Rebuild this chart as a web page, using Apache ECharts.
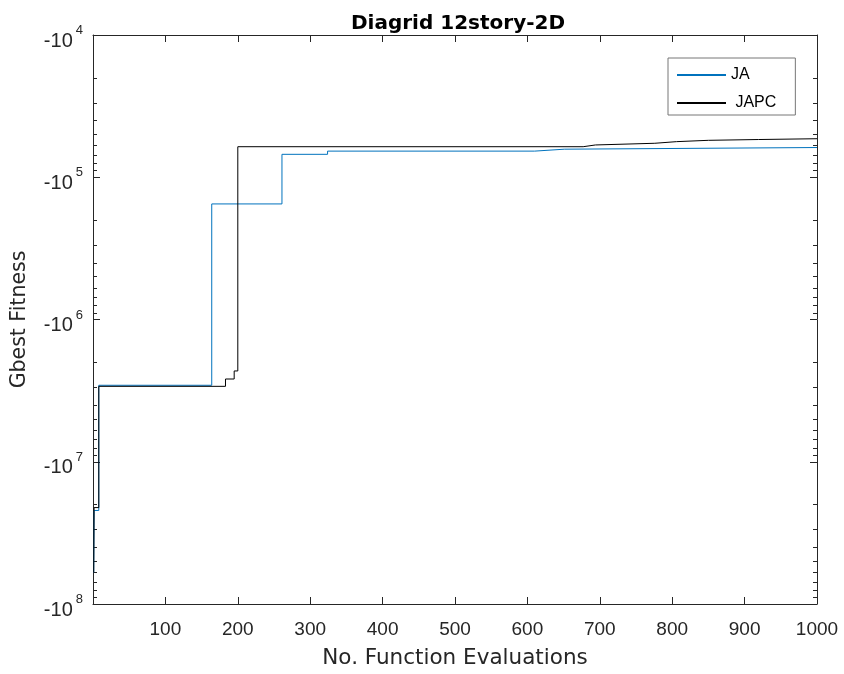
<!DOCTYPE html>
<html>
<head>
<meta charset="utf-8">
<script src="https://cdn.jsdelivr.net/npm/echarts@6/dist/echarts.min.js"></script>
<style>
  html, body { margin: 0; padding: 0; background: #fff; }
  #main { width: 844px; height: 674px; }
</style>
</head>
<body>
<div id="main"></div>
<script>
// значения (fitness отрицательный, ось — логарифм модуля)
const jaX = [1, 1.5, 8, 164, 261, 324, 610, 651, 1000];
const jaY = [-6.0e7, -2.2e7, -2.9e6, -1.54e5, -6.9e4, -6.55e4, -6.35e4, -6.18e4, -6.18e4];

const japcX = [1, 1.5, 8, 183, 195, 200, 677, 694, 776, 806, 850, 919, 1000];
const japcY = [-6.0e7, -2.1e7, -2.95e6, -2.62e6, -2.30e6, -6.1e4, -5.93e4, -5.77e4, -5.62e4, -5.5e4, -5.43e4, -5.36e4, -5.36e4];

const xTicks = [100, 200, 300, 400, 500, 600, 700, 800, 900, 1000];
const yDecades = [1e4, 1e5, 1e6, 1e7, 1e8];

// мелкие деления 2..9 внутри каждой декады
let yMinor = [];
yDecades.slice(0, -1).forEach(d => {
    for (let k = 2; k <= 9; k++) yMinor.push(k * d);
});

const font = "'Liberation Sans', Arial, Helvetica, sans-serif";
const wideFont = "'DejaVu Sans', sans-serif";
const axisColor = '#262626';

function toPairs(xs, ys) {
    return xs.map((x, i) => [x, Math.abs(ys[i])]);
}

function yAxisBase(pos) {
    return {
        type: 'log',
        position: pos,
        min: 1e4,
        max: 1e8,
        inverse: true,
        axisLine: { show: true, lineStyle: { color: axisColor, width: 1 } },
        splitLine: { show: false },
        axisTick: { show: true, inside: true, length: 7, customValues: yDecades, lineStyle: { color: axisColor } },
        axisLabel: { show: false }
    };
}

function minorAxis(pos) {
    return {
        type: 'log',
        position: pos,
        min: 1e4,
        max: 1e8,
        inverse: true,
        axisLine: { show: false },
        splitLine: { show: false },
        axisTick: { show: true, inside: true, length: 4, customValues: yMinor, lineStyle: { color: axisColor } },
        axisLabel: { show: false }
    };
}

let leftAxis = yAxisBase('left');
leftAxis.name = 'Gbest Fitness';
leftAxis.nameLocation = 'middle';
leftAxis.nameGap = 63;
leftAxis.nameTextStyle = { fontFamily: wideFont, fontSize: 20.5, color: axisColor };
leftAxis.axisLabel = {
    show: true,
    margin: 10,
    customValues: yDecades,
    formatter: v => '{b|-10}{e|' + Math.round(Math.log10(v)) + '}',
    rich: {
        b: { fontFamily: font, fontSize: 20, color: axisColor, padding: [12, 0, 0, 0] },
        e: { fontFamily: font, fontSize: 13, color: axisColor, padding: [0, 0, 9, 3] }
    }
};

let container = document.getElementById('main');
let chart = echarts.init(container, null, { renderer: 'canvas' });

const option = {
    animation: false,
    backgroundColor: '#fff',
    title: {
        text: 'Diagrid 12story-2D',
        left: 453,
        textAlign: 'center',
        top: 9,
        textStyle: { fontFamily: wideFont, fontSize: 20, fontWeight: 'bold', color: '#000' }
    },
    grid: { left: 93, right: 27, top: 35, bottom: 70 },
    legend: {
        orient: 'vertical',
        left: 668,
        top: 58,
        padding: [9, 19, 4, 8],
        itemWidth: 49,
        itemHeight: 14,
        itemGap: 12,
        backgroundColor: '#fff',
        borderColor: '#777',
        borderWidth: 1,
        borderRadius: 0,
        itemStyle: { opacity: 0 },
        formatter: n => n === 'JAPC' ? ' JAPC' : n,
        textStyle: { fontFamily: font, fontSize: 16, color: '#000' },
        data: ['JA', 'JAPC']
    },
    xAxis: [
        {
            type: 'value',
            position: 'bottom',
            min: 0,
            max: 1000,
            interval: 100,
            name: 'No. Function Evaluations',
            nameLocation: 'middle',
            nameGap: 43,
            nameTextStyle: { fontFamily: wideFont, fontSize: 21.5, color: axisColor },
            axisLine: { show: true, lineStyle: { color: axisColor, width: 1 } },
            splitLine: { show: false },
            axisTick: { show: true, inside: true, length: 7, customValues: xTicks, lineStyle: { color: axisColor } },
            axisLabel: {
                show: true, margin: 16, customValues: xTicks,
                formatter: v => String(v),
                fontFamily: font, fontSize: 19, color: axisColor
            }
        },
        {
            type: 'value',
            position: 'top',
            min: 0,
            max: 1000,
            interval: 100,
            axisLine: { show: true, lineStyle: { color: axisColor, width: 1 } },
            splitLine: { show: false },
            axisTick: { show: true, inside: true, length: 7, customValues: xTicks, lineStyle: { color: axisColor } },
            axisLabel: { show: false }
        }
    ],
    yAxis: [leftAxis, minorAxis('left'), yAxisBase('right'), minorAxis('right')],
    series: [
        {
            name: 'JA',
            type: 'line',
            step: 'end',
            symbol: 'none',
            showSymbol: false,
            xAxisIndex: 0,
            yAxisIndex: 0,
            lineStyle: { color: '#0072BD', width: 1 },
            itemStyle: { color: '#0072BD' },
            data: toPairs(jaX, jaY)
        },
        {
            name: 'JAPC',
            type: 'line',
            step: 'end',
            symbol: 'none',
            showSymbol: false,
            xAxisIndex: 0,
            yAxisIndex: 0,
            lineStyle: { color: '#000', width: 1 },
            itemStyle: { color: '#000' },
            data: toPairs(japcX, japcY)
        }
    ]
};
chart.setOption(option);
</script>
</body>
</html>
